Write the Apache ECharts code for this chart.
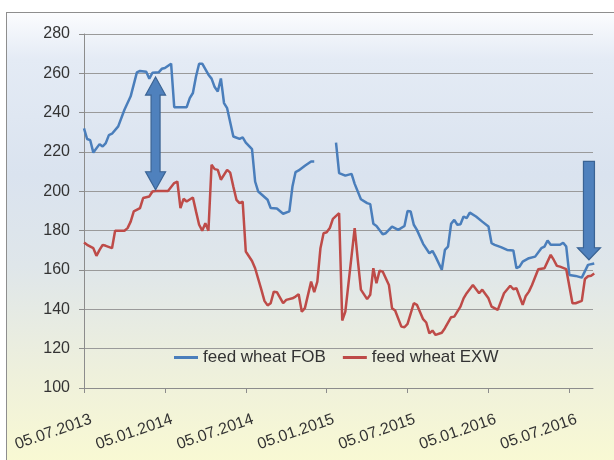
<!DOCTYPE html>
<html>
<head>
<meta charset="utf-8">
<script src="https://cdn.jsdelivr.net/npm/echarts@6/dist/echarts.min.js"></script>
<style>
  html, body { margin: 0; padding: 0; background: #ffffff; }
  .frame {
    position: absolute; left: 6px; top: 12px; width: 620px; height: 460px;
    border-left: 1.5px solid #8e8e8e; border-top: 1.5px solid #8e8e8e;
    background: linear-gradient(to bottom, #fbfcfe 0%, #e4ebf5 10%, #dae3ef 35%, #dfe6ea 55%, #eef0dc 78%, #fafad2 100%);
  }
  #chart { position: absolute; left: 0; top: 0; width: 614px; height: 460px; }
</style>
</head>
<body>
<div class="frame"></div>
<div id="chart"></div>
<script>
  // x = weeks since 05.07.2013
  var tickWeeks = [0, 26, 52, 78, 104, 130, 156];
  var tickLabels = ['05.07.2013', '05.01.2014', '05.07.2014', '05.01.2015', '05.07.2015', '05.01.2016', '05.07.2016'];
  // Excel puts the rotated text a bit right of its tick
  var labelShift = 2.3;

  // feed wheat FOB
  var fobWeeks = [0, 1, 2, 3, 5, 6, 7, 8, 9, 11, 13, 15, 17, 18, 20, 21, 22, 24, 25, 26, 28, 29, 33, 34, 35, 36, 37, 38,
    40, 41, 42, 43, 44, 45, 46, 48, 50, 51, 52, 54, 55, 56, 59, 60, 62, 64, 66, 67, 68, 69, 71, 73, 74, 75,
    81, 82, 84, 86, 87, 89, 91, 92, 93, 94, 96, 97, 99, 101, 103, 104, 105, 106, 107, 109, 111, 112, 113, 115,
    116, 117, 118, 119, 120, 121, 122, 123, 124, 126, 128, 130, 131, 132, 134, 136, 138, 139, 140, 141, 143, 145,
    147, 148, 149, 150, 153, 154, 155, 156, 158, 160, 162, 164];
  var fobValues = [232, 226.6, 226, 219.7, 224, 222.8, 224.5, 228.6, 229.3, 233, 241.5, 248.3, 260.5, 261.2, 260.8, 257.3, 260.3, 260.5, 262.3, 262.7, 264.9, 242.8, 242.8, 247.4, 250, 258.4, 264.9, 264.9,
    259.3, 257.3, 253, 250.8, 257.4, 244.9, 242.3, 227.9, 226.7, 227.4, 224.8, 221.5, 205, 199.9, 195.7, 191.5, 191.3, 188.6, 189.8, 202.4, 209.8, 210.6, 213, 215.2, 215.2, null,
    224.8, 209.3, 208, 208.9, 203.8, 196, 194, 193.5, 183.5, 182.4, 178.2, 178.7, 182.1, 180.4, 182.4, 190, 189.7, 183, 180.4, 173.3, 168.5, 169.7, 166.8, 160.1,
    170.2, 171.9, 183.5, 185.5, 183, 183.3, 187.2, 186.4, 189.2, 187.2, 184.6, 182.1, 173.6, 172.8, 171.6, 170.2, 169.9, 160.9, 161.7, 164.3, 166, 166.8,
    171.1, 171.9, 175, 172.8, 172.8, 173.9, 171.9, 157.5, 157, 156.1, 162.6, 163.3];

  // feed wheat EXW
  var exwWeeks = [0, 1, 3, 4, 5, 6, 7, 9, 10, 13, 14, 15, 16, 18, 19, 21, 22, 23, 27, 29, 30, 31, 32, 33, 35, 36, 37, 38, 39, 40,
    41, 42, 43, 44, 46, 47, 48, 49, 50, 51, 52, 54, 55, 57, 58, 59, 60, 61, 62, 64, 65, 67, 68, 69, 70, 71, 73, 74, 75, 76, 77, 78, 79, 80, 82,
    83, 84, 87, 88, 89, 91, 92, 93, 94, 95, 96, 98, 99, 100, 102, 103, 104, 106, 107, 109, 110, 111, 112, 113, 115, 116, 118, 119,
    121, 122, 123, 125, 127, 128, 130, 131, 133, 135, 137, 138, 139, 141, 142, 143, 144, 146, 148, 150, 151, 152, 153, 155, 157, 158, 160, 161, 162, 163, 164];
  var exwValues = [174, 172.8, 171.1, 167.2, 170.2, 172.8, 172.3, 171.1, 180, 180, 181.3, 184.6, 189.8, 191.5, 196.6, 197.4, 199.9, 200.2, 200.2, 204.2, 205, 191.5, 196.2, 194.8, 196.9, 189.8, 183, 180, 183.8, 180,
    213.5, 211.3, 210.9, 205.9, 210.9, 209.5, 202.4, 195.7, 194, 194.8, 169.4, 164.6, 160.9, 150, 144.3, 142, 143.1, 149, 148.7, 143.1, 144.8, 145.6, 146.5, 147.7, 138.8, 140.6, 154.1, 148.7, 154.1, 171.1, 178.7, 179.2, 181.3, 186, 188.9,
    134.3, 138.8, 181.3, 165.1, 150, 145.2, 147.4, 160.9, 153.3, 159.7, 159.2, 152.4, 140.6, 139.4, 131.2, 130.9, 132.6, 143.1, 142.3, 135, 133.3, 127.8, 129.2, 127, 128.1, 130.4, 136, 136.3,
    141.4, 145.6, 148.2, 152.4, 148.2, 150, 145.6, 141.4, 139.7, 148.2, 152, 150.2, 150.7, 142.3, 146.8, 149, 152.4, 160.4, 160.9, 167.7, 165.1, 162.1, 161.7, 160.4, 143.1, 143.1, 144.3, 155.4, 156.8, 157.1, 158.2];

  // arrows drawn over the chart (week, top value, bottom value, double-headed?)
  var arrowWeeks = [23, 162.3];
  var arrowTop = [258.1, 215.2];
  var arrowBottom = [200.8, 165.2];
  var arrowBoth = [1, 0];
  var arrowShape = [{shaft: 4.5, head: 10, len: 18}, {shaft: 5.5, head: 11.5, len: 12}];

  var chart = echarts.init(document.getElementById('chart'));

  function pairs(xs, ys) {
    return xs.map(function (x, i) { return [x, ys[i]]; });
  }

  function renderArrow(params, api) {
    var s = arrowShape[params.dataIndex];
    var top = api.coord([api.value(0), api.value(1)]);
    var bot = api.coord([api.value(0), api.value(2)]);
    var x = top[0], t = top[1], b = bot[1];
    var pts;
    if (api.value(3) === 1) {
      pts = [[x, t], [x + s.head, t + s.len], [x + s.shaft, t + s.len], [x + s.shaft, b - s.len], [x + s.head, b - s.len],
        [x, b], [x - s.head, b - s.len], [x - s.shaft, b - s.len], [x - s.shaft, t + s.len], [x - s.head, t + s.len]];
    } else {
      pts = [[x - s.shaft, t], [x + s.shaft, t], [x + s.shaft, b - s.len], [x + s.head, b - s.len], [x, b],
        [x - s.head, b - s.len], [x - s.shaft, b - s.len]];
    }
    return {
      type: 'polygon',
      shape: {points: pts},
      style: {fill: '#4f81bd', stroke: '#3a6394', lineWidth: 1.2}
    };
  }

  var labelWeeks = tickWeeks.map(function (w) { return w + labelShift; });

  var option = {
    animation: false,
    backgroundColor: 'transparent',
    textStyle: {fontFamily: 'Liberation Sans'},
    grid: {left: 84, right: 21, top: 34, bottom: 72},
    legend: {
      data: ['feed wheat FOB', 'feed wheat EXW'],
      left: 169,
      top: 344,
      icon: 'rect',
      itemWidth: 24,
      itemHeight: 3,
      itemGap: 17,
      textStyle: {fontSize: 17, color: '#333333', fontFamily: 'Liberation Sans'}
    },
    xAxis: {
      type: 'value',
      min: 0,
      max: 163.6,
      interval: 26,
      splitLine: {show: false},
      axisLine: {lineStyle: {color: '#8c8c8c', width: 1}},
      axisTick: {show: true, length: 5, lineStyle: {color: '#8c8c8c'}, customValues: tickWeeks},
      axisLabel: {
        customValues: labelWeeks,
        rotate: 19,
        margin: 31,
        fontSize: 16,
        color: '#333333',
        formatter: function (v) {
          var i = labelWeeks.indexOf(v);
          return i >= 0 ? tickLabels[i] : '';
        }
      }
    },
    yAxis: {
      type: 'value',
      min: 100,
      max: 280,
      interval: 20,
      axisLine: {show: true, lineStyle: {color: '#8c8c8c', width: 1}},
      axisTick: {show: true, length: 5, lineStyle: {color: '#8c8c8c'}},
      axisLabel: {fontSize: 16, color: '#333333', margin: 14},
      splitLine: {lineStyle: {color: '#9a9a9a', width: 1}}
    },
    series: [
      {
        name: 'feed wheat FOB',
        type: 'line',
        data: pairs(fobWeeks, fobValues),
        showSymbol: false,
        connectNulls: false,
        itemStyle: {color: '#4a7ebb'},
        lineStyle: {color: '#4a7ebb', width: 2.5}
      },
      {
        name: 'feed wheat EXW',
        type: 'line',
        data: pairs(exwWeeks, exwValues),
        showSymbol: false,
        itemStyle: {color: '#be4b48'},
        lineStyle: {color: '#be4b48', width: 2.5}
      },
      {
        name: 'arrows',
        type: 'custom',
        renderItem: renderArrow,
        data: arrowWeeks.map(function (w, i) { return [w, arrowTop[i], arrowBottom[i], arrowBoth[i]]; }),
        z: 5,
        silent: true
      }
    ]
  };

  chart.setOption(option);
</script>
</body>
</html>
